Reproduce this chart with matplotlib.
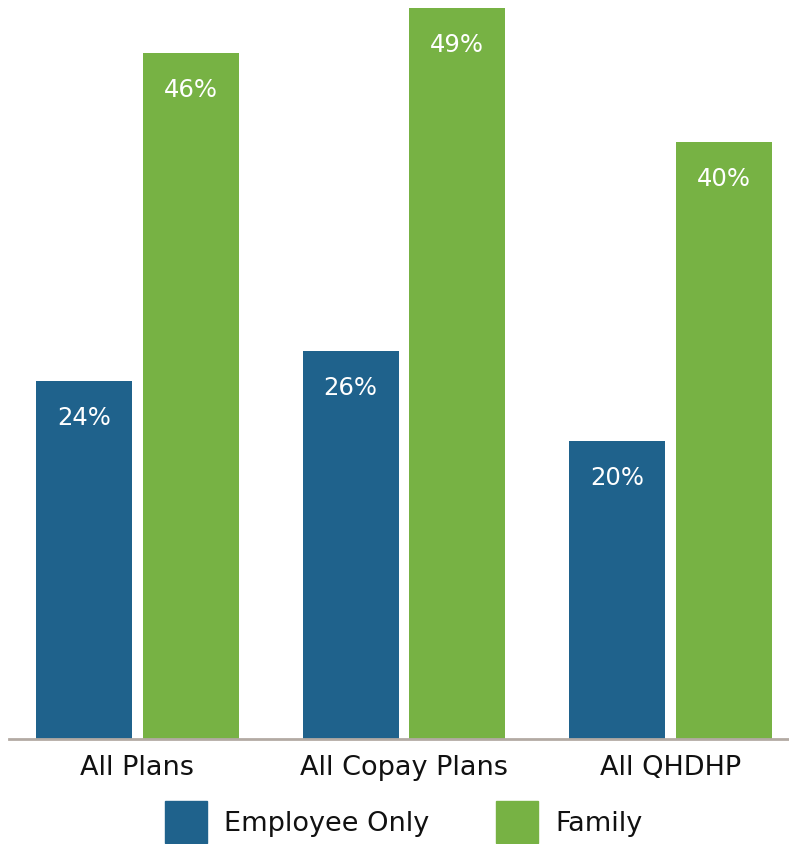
import matplotlib.pyplot as plt
from matplotlib.patches import Patch
import numpy as np

categories = ['All Plans', 'All Copay Plans', 'All QHDHP']
employee_only = [24, 26, 20]
family = [46, 49, 40]
series_names = ['Employee Only', 'Family']

BLUE = '#1f628c'
GREEN = '#77b244'

plt.rcParams['font.family'] = ['DejaVu Sans']

fig = plt.figure(figsize=(7.89, 8.44), dpi=100)
ax = fig.add_axes([9 / 789, 105 / 844, 780 / 789, 739 / 844])

x = np.arange(len(categories))
width = 0.36
offset = 0.2

bars_emp = ax.bar(x - offset, employee_only, width, color=BLUE)
bars_fam = ax.bar(x + offset, family, width, color=GREEN)

# value labels inside the top of each bar
for bars, vals in [(bars_emp, employee_only), (bars_fam, family)]:
    for b, v in zip(bars, vals):
        ax.text(b.get_x() + b.get_width() / 2, v - 2.5, f'{v}%',
                ha='center', va='center', color='white', fontsize=17.5)

ax.set_xlim(-0.482, 2.445)
ax.set_ylim(0, 49.53)

for side in ['top', 'right', 'left']:
    ax.spines[side].set_visible(False)
ax.spines['bottom'].set_color('#b3aaa3')
ax.spines['bottom'].set_linewidth(2)

ax.set_yticks([])
ax.set_xticks(x)
ax.set_xticklabels(categories, fontsize=19.5, color='#111111')
ax.tick_params(axis='x', length=0, pad=11.5)

handles = [Patch(color=BLUE), Patch(color=GREEN)]
fig.legend(handles, series_names, loc='center', bbox_to_anchor=(0.512, 22 / 844),
           ncol=2, frameon=False, fontsize=19.5, handlelength=1.55, handleheight=2.0,
           handletextpad=0.63, columnspacing=2.47, labelcolor='#111111')

fig.savefig('out.png', dpi=100)
